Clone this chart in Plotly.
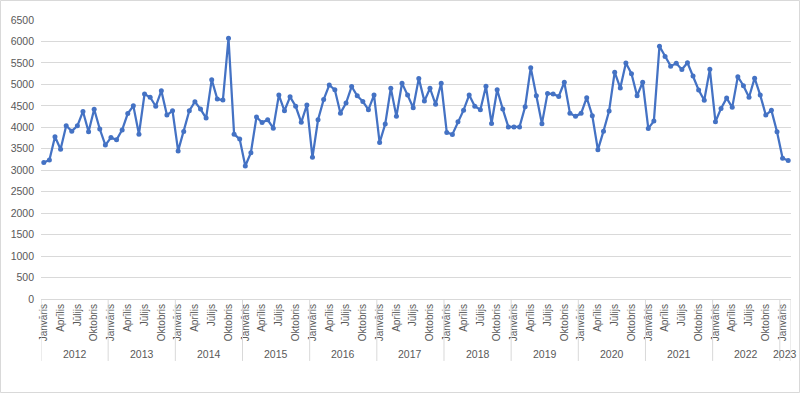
import plotly.graph_objects as go

years = ["2012", "2013", "2014", "2015", "2016", "2017", "2018", "2019", "2020", "2021", "2022", "2023"]
month_names = ["Janvāris", "Februāris", "Marts", "Aprīlis", "Maijs", "Jūnijs",
               "Jūlijs", "Augusts", "Septembris", "Oktobris", "Novembris", "Decembris"]
shown_months = ["Janvāris", "Aprīlis", "Jūlijs", "Oktobris"]

v2012 = [3180, 3240, 3780, 3490, 4035, 3910, 4035, 4370, 3895, 4420, 3960, 3585]
v2013 = [3760, 3710, 3940, 4320, 4500, 3840, 4775, 4700, 4490, 4850, 4285, 4385]
v2014 = [3450, 3900, 4385, 4595, 4425, 4215, 5110, 4660, 4635, 6075, 3840, 3725]
v2015 = [3100, 3410, 4240, 4110, 4175, 3980, 4750, 4385, 4710, 4490, 4115, 4520]
v2016 = [3300, 4175, 4645, 4985, 4875, 4330, 4565, 4950, 4735, 4600, 4410, 4750]
v2017 = [3645, 4075, 4910, 4255, 5025, 4750, 4455, 5140, 4610, 4910, 4535, 5025]
v2018 = [3880, 3835, 4130, 4400, 4750, 4490, 4410, 4955, 4090, 4875, 4425, 4010]
v2019 = [4010, 4010, 4480, 5390, 4735, 4085, 4790, 4775, 4720, 5050, 4330, 4255]
v2020 = [4325, 4690, 4270, 3475, 3910, 4380, 5285, 4915, 5500, 5250, 4735, 5050]
v2021 = [3975, 4145, 5890, 5650, 5425, 5490, 5345, 5505, 5195, 4870, 4630, 5350]
v2022 = [4130, 4440, 4680, 4465, 5180, 4970, 4700, 5145, 4750, 4285, 4395, 3895]
v2023 = [3280, 3225]

year_values = [v2012, v2013, v2014, v2015, v2016, v2017, v2018, v2019, v2020, v2021, v2022, v2023]

values = []
labels = []
for yr, vals in zip(years, year_values):
    for m, v in enumerate(vals):
        values.append(v)
        labels.append(f"{month_names[m]} {yr}")

n = len(values)
xs = list(range(n))

fig = go.Figure()
fig.add_trace(go.Scatter(
    x=xs, y=values, mode="lines+markers", text=labels,
    line=dict(color="#4472C4", width=2.25),
    marker=dict(color="#4472C4", size=5),
    cliponaxis=False,
    hovertemplate="%{text}: %{y}<extra></extra>",
))

# month tick labels
tickvals, ticktext = [], []
start = 0
for yr, vals in zip(years, year_values):
    for m in range(len(vals)):
        if month_names[m] in shown_months:
            tickvals.append(start + m)
            ticktext.append(month_names[m])
    start += len(vals)

shapes = []
annotations = []
start = 0
grey = "#D9D9D9"
div_bottom = -0.222
for yr, vals in zip(years, year_values):
    shapes.append(dict(type="line", xref="x", yref="paper", x0=start - 0.5, x1=start - 0.5,
                       y0=0, y1=div_bottom, line=dict(color=grey, width=1)))
    annotations.append(dict(xref="x", yref="paper", x=start + (len(vals) - 1) / 2, y=-0.197,
                            text=yr, showarrow=False, yanchor="middle",
                            font=dict(size=10.5, color="#595959")))
    start += len(vals)
shapes.append(dict(type="line", xref="x", yref="paper", x0=start - 0.5, x1=start - 0.5,
                   y0=0, y1=div_bottom, line=dict(color=grey, width=1)))

# chart border
W, H = 750, 279
shapes.append(dict(type="rect", xref="paper", yref="paper",
                   x0=(-41 + 0.5) / W, x1=1 + (9 - 0.5) / W,
                   y0=(-94 + 0.5) / H, y1=1 + (20 - 0.5) / H,
                   line=dict(color=grey, width=1), fillcolor="rgba(0,0,0,0)", layer="below"))

fig.update_layout(
    width=800, height=393,
    margin=dict(l=41, r=9, t=20, b=94, autoexpand=False),
    paper_bgcolor="white", plot_bgcolor="white",
    font=dict(family="Liberation Sans, Arial, sans-serif", size=11, color="#595959"),
    showlegend=False,
    shapes=shapes,
    annotations=annotations,
    xaxis=dict(
        range=[-0.5, n - 0.5], automargin=False,
        tickmode="array", tickvals=tickvals, ticktext=ticktext,
        tickangle=-90, tickfont=dict(size=10, color="#595959"),
        showgrid=False, zeroline=False,
        showline=True, linecolor=grey, linewidth=1,
        ticks="", ticklen=0,
    ),
    yaxis=dict(
        range=[0, 6500], dtick=500, tick0=0, automargin=False,
        showgrid=True, gridcolor=grey, gridwidth=1,
        zeroline=False, showline=False,
        tickfont=dict(size=10.5, color="#595959"),
        ticks="", ticklabelstandoff=6,
    ),
)

fig.write_html("out.html", config={"displayModeBar": False},
               post_script="document.body.style.margin='0';document.body.style.overflow='hidden';")
